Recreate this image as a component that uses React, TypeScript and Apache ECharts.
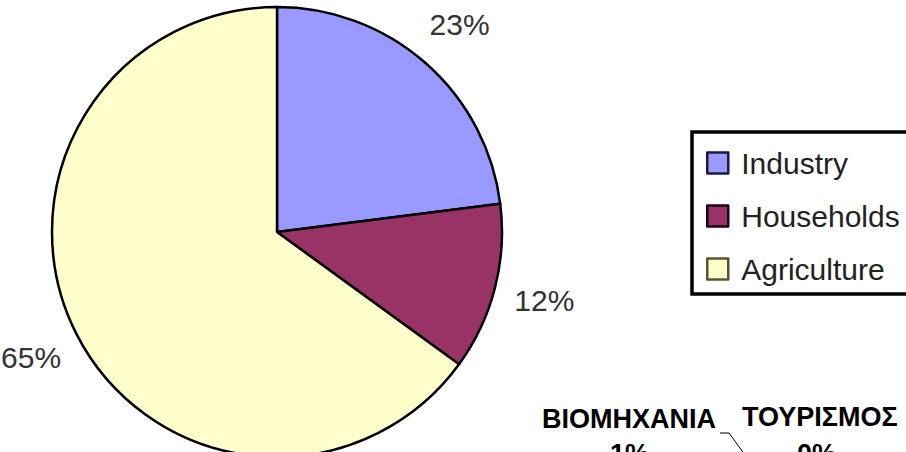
import React, { useEffect, useRef } from "react";
import * as echarts from "echarts";

const categories = ["Industry", "Households", "Agriculture"];
const values = [23, 12, 65];
const colors = ["#9999FF", "#993366", "#FFFFCC"];
const legendBorders = ["#1a1a40", "#1a0010", "#555533"];
const noteTitles = ["ΒΙΟΜΗΧΑΝΙΑ", "ΤΟΥΡΙΣΜΟΣ"];
const noteValues = ["1%", "0%"];

const labelFont = "'Liberation Sans', Arial, sans-serif";
const noteFont = "'Liberation Sans', Arial, sans-serif";

export default function App() {
  const ref = useRef<HTMLDivElement>(null);
  useEffect(() => {
    if (!ref.current) return;
    const chart = echarts.init(ref.current, undefined, { renderer: "svg" });
    const pieData = categories.map((c, i) => ({
      name: c,
      value: values[i],
      itemStyle: { color: colors[i], borderColor: "#000", borderWidth: 2.5 },
    }));
    chart.setOption({
      animation: false,
      backgroundColor: "#ffffff",
      legend: {
        orient: "vertical",
        left: 692,
        top: 132,
        data: categories.map((c, i) => ({
          name: c,
          itemStyle: { borderColor: legendBorders[i], borderWidth: 2.5 },
        })),
        icon: "rect",
        itemWidth: 21,
        itemHeight: 21,
        itemGap: 23,
        borderColor: "#000",
        borderWidth: 3.5,
        padding: [16, 60, 10, 14],
        selectedMode: false,
        textStyle: {
          fontFamily: labelFont,
          fontSize: 30,
          color: "#222",
          lineHeight: 30,
          padding: [0, 0, 0, 8],
        },
      },
      series: [
        {
          type: "pie",
          center: [277, 232],
          radius: 225,
          startAngle: 90,
          clockwise: true,
          silent: true,
          data: pieData,
          label: { show: false },
          labelLine: { show: false },
          emphasis: { disabled: true },
        },
        {
          type: "pie",
          center: [277, 232],
          radius: [268, 278],
          startAngle: 90,
          clockwise: true,
          silent: true,
          data: categories.map((c, i) => ({
            name: c,
            value: values[i],
            itemStyle: { color: "rgba(0,0,0,0)", borderWidth: 0 },
          })),
          label: {
            show: true,
            position: "inside",
            formatter: "{c}%",
            fontFamily: labelFont,
            fontSize: 30,
            color: "#333",
          },
          labelLine: { show: false },
          emphasis: { disabled: true },
        },
      ],
      graphic: [
        {
          type: "text",
          left: 542,
          top: 405,
          style: { text: noteTitles[0], font: `bold 27px ${noteFont}`, fill: "#000" },
        },
        {
          type: "text",
          left: 742,
          top: 403,
          style: { text: noteTitles[1], font: `bold 27px ${noteFont}`, fill: "#000" },
        },
        {
          type: "text",
          left: 610,
          top: 440,
          style: { text: noteValues[0], font: `bold 27px ${noteFont}`, fill: "#000" },
        },
        {
          type: "text",
          left: 797,
          top: 440,
          style: { text: noteValues[1], font: `bold 27px ${noteFont}`, fill: "#000" },
        },
        {
          type: "polyline",
          shape: { points: [[720, 433], [729, 433], [745, 455]] },
          style: { stroke: "#000", lineWidth: 1, fill: "none" },
        },
      ],
    });
    return () => chart.dispose();
  }, []);
  return (
    <div
      ref={ref}
      style={{ position: "fixed", left: 0, top: 0, width: 906, height: 452, background: "#fff" }}
    />
  );
}
